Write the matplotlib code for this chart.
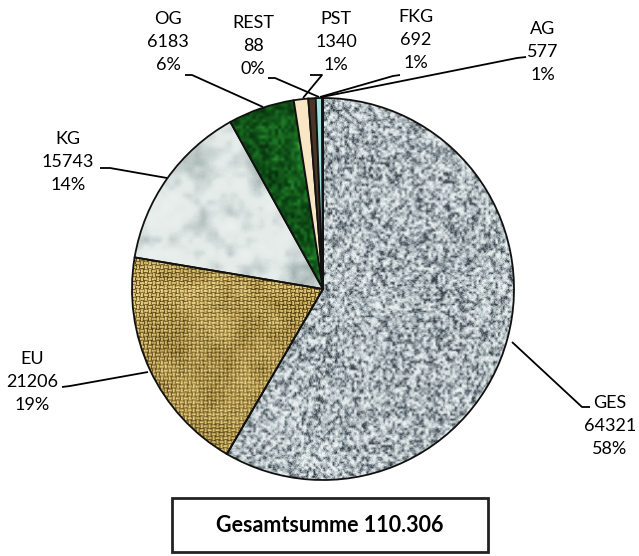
import numpy as np
import matplotlib
matplotlib.use("Agg")
import matplotlib.pyplot as plt
from matplotlib.colors import LinearSegmentedColormap

W, H = 639, 556

labels = ["GES", "EU", "KG", "OG", "PST", "FKG", "AG", "REST"]
values = [64321, 21206, 15743, 6183, 1340, 692, 577, 88]
percents = ["58%", "19%", "14%", "6%", "1%", "1%", "1%", "0%"]
total_text = "Gesamtsumme 110.306"

# plain colours for the tiny slices, textures for the big ones
plain = {"PST": "#f8e6c4", "FKG": "#4a3526", "AG": "#9fe0e0", "REST": "#c0506a"}

# label centres (pixels from top-left) and leader lines
label_pos = {
    "GES": (610, 426), "EU": (32, 382), "KG": (68, 162), "OG": (168, 42),
    "REST": (253, 46), "PST": (336, 42), "FKG": (416, 40), "AG": (543, 52),
}
leaders = {
    "GES": [(590, 407), (582, 407), (512, 342)],
    "EU": [(62, 387), (70, 386), (148, 372)],
    "KG": [(100, 168), (110, 168), (167, 178)],
    "OG": [(185, 75), (192, 75), (263, 107)],
    "REST": [(268, 78), (275, 78), (319, 97)],
    "PST": [(310, 75), (322, 75), (303, 98)],
    "FKG": [(400, 75), (393, 76), (320, 97)],
    "AG": [(526, 57), (517, 58), (322, 97)],
}

cx, cy, r = 323, H - 289, 191

rng = np.random.default_rng(7)
N = 384


def upsample(small, n):
    m = small.shape[0]
    xs = np.linspace(0, m - 1, n)
    idx = np.arange(m)
    tmp = np.array([np.interp(xs, idx, row) for row in small])
    return np.array([np.interp(xs, idx, col) for col in tmp.T]).T


def turb(scales, weights):
    out = np.zeros((N, N))
    for s, w in zip(scales, weights):
        out += w * upsample(rng.random((s, s)), N)
    out -= out.min()
    return out / out.max()


def norm(a):
    a = a - a.min()
    return a / a.max()


# granite: blue-grey with dark and light specks
g = norm(0.75 * upsample(rng.random((160, 160)), N) + 0.25 * rng.random((N, N)))
gran = np.clip((g - 0.5) * 1.5 + 0.52 + 0.08 * (turb([14], [1]) - 0.5), 0, 1)
cm_gran = LinearSegmentedColormap.from_list(
    "gran", [(0, "#384046"), (0.25, "#78848a"), (0.5, "#a9b4b8"),
             (0.75, "#cdd6d9"), (1, "#eef3f3")])

# burlap weave
yy, xx = np.mgrid[0:N, 0:N]
cell = 4
horiz = ((xx // cell + yy // cell) % 2) == 0
th = np.sin(np.pi * ((yy % cell) + 0.5) / cell) ** 1.5
tv = np.sin(np.pi * ((xx % cell) + 0.5) / cell) ** 1.5
burl = norm(np.where(horiz, th, tv) * 0.7 + 0.3 * rng.random((N, N))
            + 0.2 * turb([25], [1]))
cm_burl = LinearSegmentedColormap.from_list(
    "burl", ["#3a2c0a", "#745c24", "#ba9b4c", "#e0c676", "#f4e4a8"])

# white marble: soft grey-green clouds
marble = turb([5, 12, 28, 60], [0.35, 1, 0.6, 0.4])
marble = np.clip(marble + 0.06 * rng.random((N, N)), 0, 1)
cm_marb = LinearSegmentedColormap.from_list(
    "marb", [(0, "#f1f5f3"), (0.45, "#e3eae8"), (0.65, "#c8d3d1"),
             (1, "#8fa19f")])

# green marble: dark green with bright mottling
gm = norm(0.45 * upsample(rng.random((120, 120)), N) + 0.55 * turb([10, 25, 50], [1, 0.6, 0.4]))
gm = gm ** 1.15
cm_green = LinearSegmentedColormap.from_list(
    "grn", ["#031a06", "#0c4514", "#1c7424", "#46b04c"])

textures = {"GES": (gran, cm_gran), "EU": (burl, cm_burl),
            "KG": (marble, cm_marb), "OG": (gm, cm_green)}

fig = plt.figure(figsize=(W / 100, H / 100), dpi=100)
ax = fig.add_axes([0, 0, 1, 1])
ax.set_xlim(0, W)
ax.set_ylim(0, H)
ax.axis("off")

colors = [plain.get(l, "#cccccc") for l in labels]
wedges, _ = ax.pie(values, colors=colors, startangle=90, counterclock=False,
                   center=(cx, cy), radius=r, frame=True,
                   wedgeprops=dict(edgecolor="#111111", linewidth=1.3))

for w, lab in zip(wedges, labels):
    w.set_zorder(3)
    if lab in textures:
        img, cmap = textures[lab]
        im = ax.imshow(img, cmap=cmap, extent=[cx - r, cx + r, cy - r, cy + r],
                       interpolation="bilinear", zorder=2)
        im.set_clip_path(w)
        w.set_facecolor("none")

font = "Lato"
for lab, val, pct in zip(labels, values, percents):
    x, y = label_pos[lab]
    ax.text(x, H - y, f"{lab}\n{val}\n{pct}", ha="center", va="center",
            fontsize=13, family=font, linespacing=1.55, color="black")
    pts = leaders[lab]
    ax.plot([p[0] for p in pts], [H - p[1] for p in pts], color="black",
            lw=1.3, solid_capstyle="butt", zorder=4)

ax.text(330, H - 525, total_text, ha="center", va="center", fontsize=15.5,
        fontweight="bold", family=font)
box = plt.Rectangle((172, H - 552), 316, 54, fill=False, edgecolor="#222222",
                    lw=2)
ax.add_patch(box)

ax.set_xlim(0, W)
ax.set_ylim(0, H)
ax.set_aspect("auto")
fig.savefig("out.png", dpi=100)
